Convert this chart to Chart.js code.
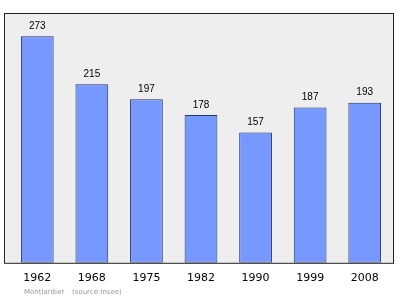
<!DOCTYPE html>
<html>
<head>
<meta charset="utf-8">
<script src="https://cdn.jsdelivr.net/npm/chart.js@4"></script>
<style>
  html, body { margin: 0; padding: 0; background: #fff; }
  #c { display: block; }
</style>
</head>
<body>
<canvas id="c" width="400" height="299"></canvas>
<script>
const annees = ['1962', '1968', '1975', '1982', '1990', '1999', '2008'];
const population = [273, 215, 197, 178, 157, 187, 193];
const commune = 'Montlardier';
const source = '(source:Insee)';

// fond gris et cadre de la zone du graphique (un peu plus large que les catégories)
const fondPlugin = {
    id: 'fond',
    beforeDraw(chart) {
        const a = chart.chartArea;
        const ctx = chart.ctx;
        ctx.save();
        ctx.fillStyle = '#eeeeee';
        ctx.fillRect(a.left - 6, a.top, a.right - a.left + 8, a.bottom - a.top);
        ctx.restore();
    },
    afterDraw(chart) {
        const a = chart.chartArea;
        const ctx = chart.ctx;
        ctx.save();
        ctx.strokeStyle = '#222';
        ctx.lineWidth = 1;
        ctx.strokeRect(a.left - 6 + 0.5, a.top + 0.5, a.right - a.left + 8 - 1, a.bottom - a.top);
        // valeurs au-dessus des barres
        ctx.fillStyle = '#000';
        ctx.font = '10px "Liberation Sans", Arial, sans-serif';
        ctx.textAlign = 'center';
        ctx.textBaseline = 'alphabetic';
        chart.getDatasetMeta(0).data.forEach((bar, i) => {
            ctx.fillText(population[i], bar.x, bar.y - 7.5);
        });
        // source en bas
        ctx.fillStyle = '#999';
        ctx.font = '7px "DejaVu Sans", sans-serif';
        ctx.textAlign = 'left';
        ctx.fillText(commune, 24, 294);
        ctx.fillText(source, 72, 294);
        ctx.restore();
    }
};

new Chart(document.getElementById('c').getContext('2d'), {
    type: 'bar',
    data: {
        labels: annees,
        datasets: [{
            data: population,
            backgroundColor: '#7799ff',
            borderColor: '#223366',
            borderWidth: 1,
            borderSkipped: false,
            categoryPercentage: 1,
            barPercentage: 0.6
        }]
    },
    options: {
        responsive: false,
        animation: false,
        layout: { padding: { left: 10, right: 8, top: 13, bottom: 5 } },
        plugins: { legend: { display: false }, tooltip: { enabled: false } },
        scales: {
            x: {
                grid: { display: false, drawTicks: false },
                border: { display: false },
                ticks: { color: '#000', padding: 9, font: { size: 11, family: '"DejaVu Sans", sans-serif' } }
            },
            y: {
                display: false,
                min: 0,
                max: 301
            }
        }
    },
    plugins: [fondPlugin]
});
</script>
</body>
</html>
